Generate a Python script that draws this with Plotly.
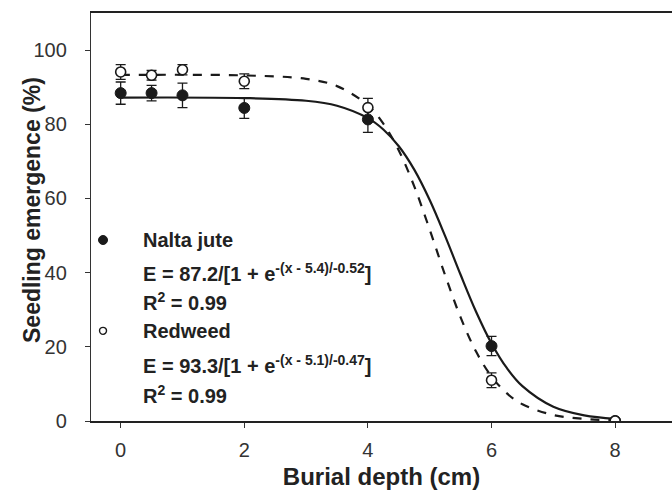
import plotly.graph_objects as go

# Observed data
depth = [0, 0.5, 1, 2, 4, 6, 8]
nalta_mean = [88.4, 88.4, 87.8, 84.4, 81.3, 20.2, 0.0]
nalta_err = [3.0, 2.1, 3.3, 2.8, 3.5, 2.6, 0.0]
redweed_mean = [94.1, 93.2, 94.7, 91.6, 84.5, 11.0, 0.0]
redweed_err = [2.0, 1.3, 1.4, 2.0, 2.5, 2.0, 0.0]

# Fitted sigmoid curves (values of E = a/[1 + e^{-(x - x0)/b}] as drawn)
fit_x = [0, 2, 3, 3.5, 4, 4.25, 4.5, 4.75, 5, 5.25, 5.5, 5.75, 6, 6.25, 6.5, 7, 7.5, 8]
nalta_fit = [87.2, 87.07, 86.35, 85.0, 81.66, 78.6, 74.08, 67.78, 59.58, 49.85,
             39.42, 29.46, 20.91, 14.23, 9.39, 3.84, 1.51, 0.58]
redweed_fit = [93.3, 93.17, 92.24, 90.29, 85.10, 80.16, 72.95, 63.26, 51.6, 39.27,
               27.92, 18.71, 11.98, 7.43, 4.51, 1.61, 0.56, 0.19]

x_ticks = [0, 2, 4, 6, 8]
y_ticks = [0, 20, 40, 60, 80, 100]

legend_lines = [
    "Nalta jute",
    "E = 87.2/[1 + e<sup>-(x - 5.4)/-0.52</sup>]",
    "R<sup>2</sup> = 0.99",
    "Redweed",
    "E = 93.3/[1 + e<sup>-(x - 5.1)/-0.47</sup>]",
    "R<sup>2</sup> = 0.99",
]

FONT = "Liberation Sans, Arial, sans-serif"
INK = "#1a1a1a"

fig = go.Figure()
fig.add_trace(go.Scatter(x=fit_x, y=redweed_fit, mode="lines", line_shape="spline",
                         line=dict(color=INK, width=2.2, dash="dash"), showlegend=False))
fig.add_trace(go.Scatter(x=fit_x, y=nalta_fit, mode="lines", line_shape="spline",
                         line=dict(color=INK, width=2.2), showlegend=False))
fig.add_trace(go.Scatter(x=depth, y=nalta_mean, mode="markers",
                         error_y=dict(type="data", array=nalta_err, color=INK, thickness=1.3, width=5),
                         marker=dict(size=11, color=INK, line=dict(color=INK, width=1)),
                         showlegend=False))
fig.add_trace(go.Scatter(x=depth, y=redweed_mean, mode="markers",
                         error_y=dict(type="data", array=redweed_err, color=INK, thickness=1.3, width=5),
                         marker=dict(size=10, color="white", line=dict(color=INK, width=1.6)),
                         showlegend=False))

# legend text block
ys = [0.4436, 0.365, 0.292, 0.221, 0.138, 0.064]
for txt, yy in zip(legend_lines, ys):
    fig.add_annotation(x=0.086, y=yy, xref="paper", yref="paper", text="<b>" + txt + "</b>",
                       showarrow=False, xanchor="left", yanchor="middle",
                       font=dict(family=FONT, size=20, color="#222222"))

# legend symbols
fig.add_shape(type="circle", xref="paper", yref="paper", xsizemode="pixel", ysizemode="pixel",
              xanchor=0.0207, yanchor=0.4436, x0=-4.5, x1=4.5, y0=-4.5, y1=4.5,
              fillcolor=INK, line=dict(color=INK, width=1))
fig.add_shape(type="circle", xref="paper", yref="paper", xsizemode="pixel", ysizemode="pixel",
              xanchor=0.0207, yanchor=0.221, x0=-3.5, x1=3.5, y0=-3.5, y1=3.5,
              fillcolor="white", line=dict(color=INK, width=1.4))

# y-axis title as a free annotation (sits close to the tick labels as in the reference)
fig.add_annotation(x=0, y=0.5, xref="paper", yref="paper", text="<b>Seedling emergence (%)</b>",
                   textangle=-90, showarrow=False, xanchor="center", yanchor="middle",
                   xshift=-59, yshift=7, font=dict(family=FONT, size=23, color="#222222"))

fig.update_layout(
    width=672, height=496,
    margin=dict(l=91, r=0, t=13, b=75),
    plot_bgcolor="white", paper_bgcolor="white",
    font=dict(family=FONT, color="#333333"),
    xaxis=dict(range=[-0.48, 8.92], tickvals=x_ticks, ticks="outside", ticklen=5,
               tickcolor="#333333", showline=True, linecolor="#222222", linewidth=1.8,
               mirror=True, showgrid=False, zeroline=False, ticklabelstandoff=5,
               tickfont=dict(size=20, color="#333333"),
               title=dict(text="<b>Burial depth (cm)</b>", font=dict(size=24, color="#222222"),
                          standoff=8)),
    yaxis=dict(range=[0, 110], tickvals=y_ticks, ticks="outside", ticklen=5,
               tickcolor="#333333", showline=True, linecolor="#333333", linewidth=1.3,
               mirror=False, showgrid=False, zeroline=False, ticklabelstandoff=14,
               tickfont=dict(size=20, color="#333333")),
)

fig.write_html("out.html")
